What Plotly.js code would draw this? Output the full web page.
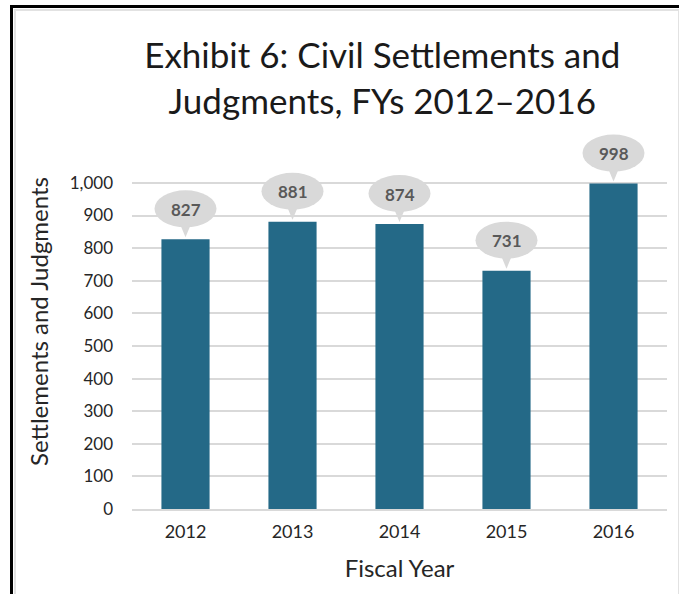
<!DOCTYPE html>
<html>
<head>
<meta charset="utf-8">
<script src="https://cdn.plot.ly/plotly-3.0.1.min.js"></script>
<style>
html,body{margin:0;padding:0;background:#fff;overflow:hidden;}
#chart{position:absolute;left:0;top:0;width:679px;height:594px;}
#frameOuter{position:absolute;left:10px;top:5px;width:680px;height:600px;border-left:3px solid #000;border-top:3px solid #000;pointer-events:none;}
#frameInner{position:absolute;left:14px;top:9px;width:662px;height:600px;border-left:2px solid #e2e2e2;border-top:2px solid #e2e2e2;border-right:1px solid #e2e2e2;pointer-events:none;}
</style>
</head>
<body>
<div id="chart"></div>
<div id="frameInner"></div>
<div id="frameOuter"></div>
<script>
const years = ['2012', '2013', '2014', '2015', '2016'];
const counts = [827, 881, 874, 731, 998];
const yTicks = [0, 100, 200, 300, 400, 500, 600, 700, 800, 900, 1000];
const yTickText = ['0', '100', '200', '300', '400', '500', '600', '700', '800', '900', '1,000'];

const FONT = 'Lato, "Open Sans", sans-serif';

const shapes = [];
const annotations = [];
years.forEach((yr, i) => {
  // callout bubble anchored at the category index and the value
  shapes.push({
    type: 'circle', xref: 'x', yref: 'y',
    xsizemode: 'pixel', ysizemode: 'pixel',
    xanchor: i, yanchor: counts[i],
    x0: -31, x1: 31, y0: 12, y1: 49,
    fillcolor: '#d9d9d9', line: {width: 0}, layer: 'above'
  });
  shapes.push({
    type: 'path', xref: 'x', yref: 'y',
    xsizemode: 'pixel', ysizemode: 'pixel',
    xanchor: i, yanchor: counts[i],
    path: 'M -5 14 L 0 2 L 5 14 Z',
    fillcolor: '#d9d9d9', line: {width: 0}, layer: 'above'
  });
  annotations.push({
    x: i, y: counts[i], xref: 'x', yref: 'y',
    text: '<b>' + counts[i] + '</b>', showarrow: false,
    yshift: 30, font: {family: FONT, size: 17, color: '#595959'}
  });
});

const data = [{
  type: 'bar',
  x: years,
  y: counts,
  marker: {color: '#246987'},
  cliponaxis: false,
  hoverinfo: 'x+y'
}];

const layout = {
  width: 679, height: 594,
  margin: {l: 132, r: 12, t: 134, b: 85, pad: 0},
  paper_bgcolor: '#fff', plot_bgcolor: 'rgba(0,0,0,0)',
  bargap: 0.55,
  showlegend: false,
  title: {
    text: 'Exhibit 6: Civil Settlements and<br>Judgments, FYs 2012–2016',
    font: {family: FONT, size: 35, color: '#1a1a1a'},
    x: 0.563, xref: 'container', xanchor: 'center',
    y: 0.885, yref: 'container', yanchor: 'middle'
  },
  xaxis: {
    type: 'category',
    range: [-0.5, years.length - 0.5],
    tickfont: {family: FONT, size: 18, color: '#262626'},
    showgrid: false, showline: true, linecolor: '#d9d9d9', linewidth: 2,
    ticks: '', ticklabelstandoff: 5,
    title: {text: 'Fiscal Year', font: {family: FONT, size: 24, color: '#262626'}, standoff: 20}
  },
  yaxis: {
    range: [0, 1150],
    tickvals: yTicks, ticktext: yTickText,
    tickfont: {family: FONT, size: 17, color: '#262626'},
    showgrid: true, gridcolor: '#d9d9d9', gridwidth: 2,
    zeroline: false, showline: false,
    ticks: '', ticklabelstandoff: 18,
    title: {text: 'Settlements and Judgments', font: {family: FONT, size: 24, color: '#262626'}, standoff: 14}
  },
  shapes: shapes,
  annotations: annotations
};

Plotly.newPlot('chart', data, layout, {displayModeBar: false, staticPlot: true});
</script>
</body>
</html>
